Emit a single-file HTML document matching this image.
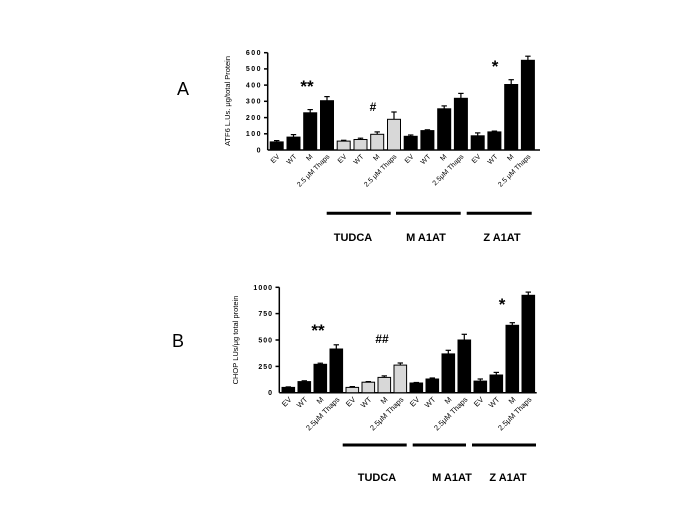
<!DOCTYPE html>
<html><head><meta charset="utf-8"><style>body{margin:0;background:#fff}svg{display:block}</style></head>
<body>
<svg width="685" height="513" xmlns="http://www.w3.org/2000/svg" font-family="Liberation Sans, Arial, sans-serif">
<rect width="685" height="513" fill="#fff"/>
<text x="183" y="95" font-size="18" text-anchor="middle">A</text>
<text x="178" y="347" font-size="18" text-anchor="middle">B</text>

<!-- Chart A -->
<g stroke="#000" stroke-width="1.5" fill="none">
<line x1="267.7" y1="52.7" x2="267.7" y2="150"/>
<line x1="267.7" y1="150" x2="540" y2="150"/>
<line x1="264" y1="52.7" x2="267.7" y2="52.7"/><line x1="264" y1="68.9" x2="267.7" y2="68.9"/><line x1="264" y1="85.1" x2="267.7" y2="85.1"/><line x1="264" y1="101.3" x2="267.7" y2="101.3"/><line x1="264" y1="117.6" x2="267.7" y2="117.6"/><line x1="264" y1="133.8" x2="267.7" y2="133.8"/>
</g>
<g font-size="7" font-weight="bold" text-anchor="end" letter-spacing="1.5">
<text x="262" y="55">600</text><text x="262" y="71">500</text><text x="262" y="87.5">400</text><text x="262" y="103.5">300</text><text x="262" y="120">200</text><text x="262" y="136">100</text><text x="262" y="152.5">0</text>
</g>
<text transform="translate(230,101) rotate(-90)" font-size="7.5" text-anchor="middle">ATF6 L.Us. μg/total Protein</text>
<g stroke="#000" stroke-width="1.2">
<line x1="276.7" y1="141.9" x2="276.7" y2="140.6"/><line x1="274" y1="140.6" x2="279.4" y2="140.6"/>
<line x1="293.5" y1="137.1" x2="293.5" y2="134.6"/><line x1="290.8" y1="134.6" x2="296.2" y2="134.6"/>
<line x1="310.2" y1="112.8" x2="310.2" y2="109.6"/><line x1="307.5" y1="109.6" x2="312.9" y2="109.6"/>
<line x1="327" y1="100.7" x2="327" y2="96.6"/><line x1="324.3" y1="96.6" x2="329.7" y2="96.6"/>
<line x1="343.7" y1="141.1" x2="343.7" y2="140.3"/><line x1="341" y1="140.3" x2="346.4" y2="140.3"/>
<line x1="360.5" y1="139.5" x2="360.5" y2="138.2"/><line x1="357.8" y1="138.2" x2="363.2" y2="138.2"/>
<line x1="377.2" y1="134.3" x2="377.2" y2="131.9"/><line x1="374.5" y1="131.9" x2="379.9" y2="131.9"/>
<line x1="394" y1="119.3" x2="394" y2="112"/><line x1="391.3" y1="112" x2="396.7" y2="112"/>
<line x1="410.7" y1="136.3" x2="410.7" y2="135"/><line x1="408" y1="135" x2="413.4" y2="135"/>
<line x1="427.4" y1="130.6" x2="427.4" y2="129.8"/><line x1="424.7" y1="129.8" x2="430.1" y2="129.8"/>
<line x1="444.2" y1="108.8" x2="444.2" y2="105.9"/><line x1="441.5" y1="105.9" x2="446.9" y2="105.9"/>
<line x1="460.9" y1="98.3" x2="460.9" y2="93.4"/><line x1="458.2" y1="93.4" x2="463.6" y2="93.4"/>
<line x1="477.7" y1="135.8" x2="477.7" y2="132.9"/><line x1="475" y1="132.9" x2="480.4" y2="132.9"/>
<line x1="494.4" y1="131.9" x2="494.4" y2="131.1"/><line x1="491.7" y1="131.1" x2="497.1" y2="131.1"/>
<line x1="511.2" y1="84.5" x2="511.2" y2="79.7"/><line x1="508.5" y1="79.7" x2="513.9" y2="79.7"/>
<line x1="527.9" y1="60.3" x2="527.9" y2="56.2"/><line x1="525.2" y1="56.2" x2="530.6" y2="56.2"/>
</g>
<g stroke="#000" stroke-width="1">
<rect x="270.2" y="141.9" width="13" height="8.1" fill="#000"/>
<rect x="287" y="137.1" width="13" height="12.9" fill="#000"/>
<rect x="303.7" y="112.8" width="13" height="37.2" fill="#000"/>
<rect x="320.5" y="100.7" width="13" height="49.3" fill="#000"/>
<rect x="337.2" y="141.1" width="13" height="8.9" fill="#d8d8d8"/>
<rect x="354" y="139.5" width="13" height="10.5" fill="#d8d8d8"/>
<rect x="370.7" y="134.3" width="13" height="15.7" fill="#d8d8d8"/>
<rect x="387.5" y="119.3" width="13" height="30.7" fill="#d8d8d8"/>
<rect x="404.2" y="136.3" width="13" height="13.7" fill="#000"/>
<rect x="420.9" y="130.6" width="13" height="19.4" fill="#000"/>
<rect x="437.7" y="108.8" width="13" height="41.2" fill="#000"/>
<rect x="454.4" y="98.3" width="13" height="51.7" fill="#000"/>
<rect x="471.2" y="135.8" width="13" height="14.2" fill="#000"/>
<rect x="487.9" y="131.9" width="13" height="18.1" fill="#000"/>
<rect x="504.7" y="84.5" width="13" height="65.5" fill="#000"/>
<rect x="521.4" y="60.3" width="13" height="89.7" fill="#000"/>
</g>
<g font-size="7" text-anchor="end">
<text transform="translate(280,157) rotate(-45)">EV</text>
<text transform="translate(297,157) rotate(-45)">WT</text>
<text transform="translate(313,157) rotate(-45)">M</text>
<text transform="translate(330,157) rotate(-45)">2.5 μM Thaps</text>
<text transform="translate(347,157) rotate(-45)">EV</text>
<text transform="translate(364,157) rotate(-45)">WT</text>
<text transform="translate(380,157) rotate(-45)">M</text>
<text transform="translate(397,157) rotate(-45)">2.5 μM Thaps</text>
<text transform="translate(414,157) rotate(-45)">EV</text>
<text transform="translate(431,157) rotate(-45)">WT</text>
<text transform="translate(447,157) rotate(-45)">M</text>
<text transform="translate(464,157) rotate(-45)">2.5μM Thaps</text>
<text transform="translate(481,157) rotate(-45)">EV</text>
<text transform="translate(498,157) rotate(-45)">WT</text>
<text transform="translate(514,157) rotate(-45)">M</text>
<text transform="translate(531,157) rotate(-45)">2.5 μM Thaps</text>
</g>
<g font-weight="bold" text-anchor="middle">
<text x="307" y="92" font-size="17">**</text>
<text x="373" y="111" font-size="12">#</text>
<text x="495" y="72" font-size="17">*</text>
</g>
<g stroke="#000" stroke-width="3"><line x1="326.7" y1="213.3" x2="390.7" y2="213.3"/><line x1="396" y1="213.3" x2="460.7" y2="213.3"/><line x1="466.7" y1="213.3" x2="531.7" y2="213.3"/></g>
<g font-size="11" font-weight="bold" text-anchor="middle">
<text x="353" y="241">TUDCA</text><text x="426" y="241">M A1AT</text><text x="502" y="241">Z A1AT</text>
</g>

<!-- Chart B -->
<g stroke="#000" stroke-width="1.5" fill="none">
<line x1="279.3" y1="287.3" x2="279.3" y2="392.7"/>
<line x1="279.3" y1="392.7" x2="536.7" y2="392.7"/>
<line x1="275.5" y1="287.3" x2="279.3" y2="287.3"/><line x1="275.5" y1="313.6" x2="279.3" y2="313.6"/><line x1="275.5" y1="340" x2="279.3" y2="340"/><line x1="275.5" y1="366.4" x2="279.3" y2="366.4"/>
</g>
<g font-size="7" font-weight="bold" text-anchor="end" letter-spacing="1">
<text x="273" y="290">1000</text><text x="273" y="316">750</text><text x="273" y="342.5">500</text><text x="273" y="369">250</text><text x="273" y="395">0</text>
</g>
<text transform="translate(238,340) rotate(-90)" font-size="7.5" text-anchor="middle">CHOP LUs/μg total protein</text>
<g stroke="#000" stroke-width="1.2">
<line x1="288.3" y1="387.4" x2="288.3" y2="386.9"/><line x1="285.6" y1="386.9" x2="291" y2="386.9"/>
<line x1="304.3" y1="381.6" x2="304.3" y2="380.8"/><line x1="301.6" y1="380.8" x2="307" y2="380.8"/>
<line x1="320.3" y1="364.3" x2="320.3" y2="363.2"/><line x1="317.6" y1="363.2" x2="323" y2="363.2"/>
<line x1="336.3" y1="349" x2="336.3" y2="344.8"/><line x1="333.6" y1="344.8" x2="339" y2="344.8"/>
<line x1="352.3" y1="387.4" x2="352.3" y2="386.6"/><line x1="349.6" y1="386.6" x2="355" y2="386.6"/>
<line x1="368.3" y1="382.2" x2="368.3" y2="381.6"/><line x1="365.6" y1="381.6" x2="371" y2="381.6"/>
<line x1="384.3" y1="377.4" x2="384.3" y2="375.9"/><line x1="381.6" y1="375.9" x2="387" y2="375.9"/>
<line x1="400.3" y1="365.1" x2="400.3" y2="363"/><line x1="397.6" y1="363" x2="403" y2="363"/>
<line x1="416.3" y1="383" x2="416.3" y2="382.5"/><line x1="413.6" y1="382.5" x2="419" y2="382.5"/>
<line x1="432.3" y1="379" x2="432.3" y2="378"/><line x1="429.6" y1="378" x2="435" y2="378"/>
<line x1="448.3" y1="353.9" x2="448.3" y2="350.3"/><line x1="445.6" y1="350.3" x2="451" y2="350.3"/>
<line x1="464.3" y1="340" x2="464.3" y2="334.3"/><line x1="461.6" y1="334.3" x2="467" y2="334.3"/>
<line x1="480.3" y1="381.1" x2="480.3" y2="379"/><line x1="477.6" y1="379" x2="483" y2="379"/>
<line x1="496.3" y1="375" x2="496.3" y2="372.4"/><line x1="493.6" y1="372.4" x2="499" y2="372.4"/>
<line x1="512.3" y1="325.3" x2="512.3" y2="322.7"/><line x1="509.6" y1="322.7" x2="515" y2="322.7"/>
<line x1="528.3" y1="295.3" x2="528.3" y2="292.1"/><line x1="525.6" y1="292.1" x2="531" y2="292.1"/>
</g>
<g stroke="#000" stroke-width="1">
<rect x="282" y="387.4" width="12.6" height="5.3" fill="#000"/>
<rect x="298" y="381.6" width="12.6" height="11.1" fill="#000"/>
<rect x="314" y="364.3" width="12.6" height="28.4" fill="#000"/>
<rect x="330" y="349" width="12.6" height="43.7" fill="#000"/>
<rect x="346" y="387.4" width="12.6" height="5.3" fill="#d8d8d8"/>
<rect x="362" y="382.2" width="12.6" height="10.5" fill="#d8d8d8"/>
<rect x="378" y="377.4" width="12.6" height="15.3" fill="#d8d8d8"/>
<rect x="394" y="365.1" width="12.6" height="27.6" fill="#d8d8d8"/>
<rect x="410" y="383" width="12.6" height="9.7" fill="#000"/>
<rect x="426" y="379" width="12.6" height="13.7" fill="#000"/>
<rect x="442" y="353.9" width="12.6" height="38.8" fill="#000"/>
<rect x="458" y="340" width="12.6" height="52.7" fill="#000"/>
<rect x="474" y="381.1" width="12.6" height="11.6" fill="#000"/>
<rect x="490" y="375" width="12.6" height="17.7" fill="#000"/>
<rect x="506" y="325.3" width="12.6" height="67.4" fill="#000"/>
<rect x="522" y="295.3" width="12.6" height="97.4" fill="#000"/>
</g>
<g font-size="7.5" text-anchor="end">
<text transform="translate(292,400) rotate(-45)">EV</text>
<text transform="translate(308,400) rotate(-45)">WT</text>
<text transform="translate(324,400) rotate(-45)">M</text>
<text transform="translate(340,400) rotate(-45)">2.5μM Thaps</text>
<text transform="translate(356,400) rotate(-45)">EV</text>
<text transform="translate(372,400) rotate(-45)">WT</text>
<text transform="translate(388,400) rotate(-45)">M</text>
<text transform="translate(404,400) rotate(-45)">2.5μM Thaps</text>
<text transform="translate(420,400) rotate(-45)">EV</text>
<text transform="translate(436,400) rotate(-45)">WT</text>
<text transform="translate(452,400) rotate(-45)">M</text>
<text transform="translate(468,400) rotate(-45)">2.5μM Thaps</text>
<text transform="translate(484,400) rotate(-45)">EV</text>
<text transform="translate(500,400) rotate(-45)">WT</text>
<text transform="translate(516,400) rotate(-45)">M</text>
<text transform="translate(532,400) rotate(-45)">2.5μM Thaps</text>
</g>
<g font-weight="bold" text-anchor="middle">
<text x="318" y="336" font-size="17">**</text>
<text x="382" y="343" font-size="12">##</text>
<text x="502" y="310" font-size="17">*</text>
</g>
<g stroke="#000" stroke-width="3"><line x1="342.7" y1="445" x2="406.7" y2="445"/><line x1="412.7" y1="445" x2="466" y2="445"/><line x1="472" y1="445" x2="536" y2="445"/></g>
<g font-size="11" font-weight="bold" text-anchor="middle">
<text x="377" y="481">TUDCA</text><text x="452" y="481">M A1AT</text><text x="508" y="481">Z A1AT</text>
</g>
</svg>
</body></html>
